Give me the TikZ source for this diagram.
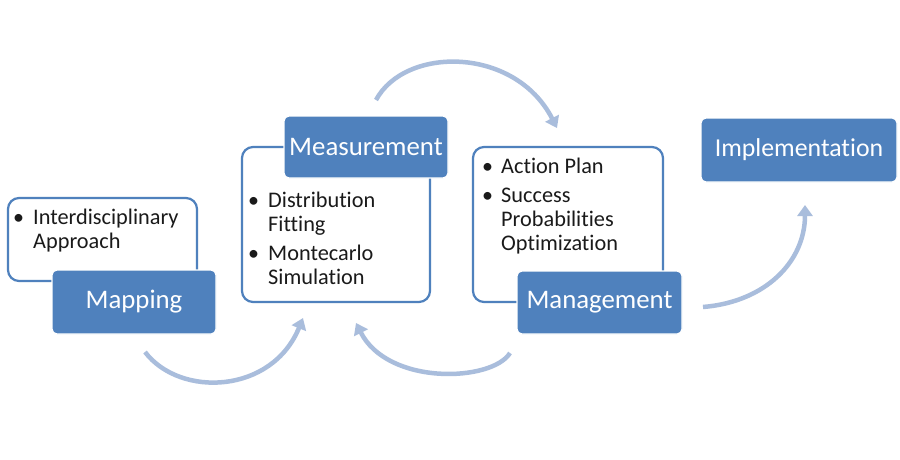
\documentclass[tikz,border=0pt]{standalone}
\usepackage{fontspec}
\setmainfont{Carlito}[Ligatures=NoCommon]
\usetikzlibrary{arrows.meta}
\definecolor{boxblue}{HTML}{4F81BD}
\definecolor{arrowblue}{HTML}{A9BDDC}
\definecolor{txt}{HTML}{1A1A1A}
\begin{document}
\begin{tikzpicture}[x=1pt,y=-1pt,
  whitebox/.style={draw=boxblue,line width=2.2pt,fill=white,rounded corners=11pt},
  bluebox/.style={draw=white,line width=1.2pt,fill=boxblue,rounded corners=5pt},
  bluelabel/.style={text=white,font=\fontsize{26.8}{32}\selectfont,inner sep=0pt},
  itemtext/.style={anchor=base west,text=txt,font=\fontsize{22.3}{27}\selectfont,inner sep=0pt},
  bul/.style={anchor=base west,text=txt,font=\fontsize{22}{26}\selectfont,inner sep=0pt},
  flow/.style={draw=arrowblue,line width=4.5pt,-{Triangle[length=11pt,width=15pt]}}
]
\useasboundingbox (0,0) rectangle (900,460);
\fill[white] (0,0) rectangle (900,460);

% Mapping group
\draw[whitebox] (8,198) rectangle (197,281);
\node[bul] (b1) at (13,224) {•};
\node[itemtext] (t1) at (33,224) {Interdisciplinary};
\node[itemtext] (t2) at (33,248) {Approach};
\draw[bluebox] (52,270) rectangle (216,334);
\node[bluelabel] (map) at (134,302) {Mapping};

% Measurement group
\draw[whitebox] (242,147) rectangle (430,302);
\draw[bluebox] (284,116) rectangle (448,178);
\node[bluelabel] (meas) at (366,147) {Measurement};
\node[bul] (b2) at (248,207) {•};
\node[itemtext] (t3) at (268,207) {Distribution};
\node[itemtext] (t4) at (268,231) {Fitting};
\node[bul] (b3) at (248,260) {•};
\node[itemtext] (t5) at (268,260) {Montecarlo};
\node[itemtext] (t6) at (268,284) {Simulation};

% Management group
\draw[whitebox] (473,147) rectangle (663,302);
\node[bul] (b4) at (482,173) {•};
\node[itemtext] (t7) at (501,173) {Action Plan};
\node[bul] (b5) at (482,202) {•};
\node[itemtext] (t8) at (501,202) {Success};
\node[itemtext] (t9) at (501,226) {Probabilities};
\node[itemtext] (t10) at (501,250) {Optimization};
\draw[bluebox] (517,271) rectangle (682,334);
\node[bluelabel] (mgmt) at (599.5,302.5) {Management};

% Implementation
\draw[bluebox] (701,118) rectangle (897,182);
\node[bluelabel,font=\fontsize{25.8}{31}\selectfont] (impl) at (799,150) {Implementation};

% arrows
\coordinate (a1s) at (145,352);
\coordinate (a1e) at (303,318);
\coordinate (a2s) at (510,353);
\coordinate (a2e) at (356,323);
\coordinate (a3s) at (376,100);
\coordinate (a3e) at (557,128);
\coordinate (a4s) at (703,307);
\coordinate (a4e) at (805,205);
\draw[flow] (a1s) .. controls (180,398) and (272,394) .. (a1e);
\draw[flow] (a2s) .. controls (492,382) and (388,386) .. (a2e);
\draw[flow] (a3s) .. controls (405,46) and (515,46) .. (a3e);
\draw[flow] (a4s) .. controls (765,302) and (805,262) .. (a4e);
\end{tikzpicture}
\end{document}
